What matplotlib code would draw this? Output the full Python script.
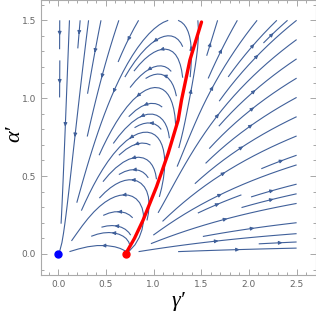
import matplotlib.pyplot as plt
import numpy as np

# red curve
red_gamma = [0.707, 0.80, 0.891, 1.031, 1.153, 1.258, 1.293, 1.381, 1.503, 1.52]
red_alpha = [0.0, 0.10, 0.218, 0.431, 0.645, 0.859, 0.987, 1.244, 1.489, 1.55]

# fixed points
blue_pt = (0.0, 0.0)
red_pt = (0.707, 0.0)

x_ticks = [0.0, 0.5, 1.0, 1.5, 2.0, 2.5]
y_ticks = [0.0, 0.5, 1.0, 1.5]

# model field: gamma is pushed away from the red line,
# alpha turns around about 0.3 to the left of it
turn_gap = 0.3
alpha_rate = 2.5

gg, aa = np.meshgrid(np.linspace(0.015, 2.5, 250), np.linspace(0.015, 1.5, 250))
g_red = np.interp(aa, red_alpha, red_gamma)
u = gg * (gg**2 - g_red**2)
v = alpha_rate * aa * (gg - g_red + turn_gap)

fig = plt.figure(figsize=(3.16, 3.11), dpi=100)
ax = fig.add_axes([0.1297, 0.1158, 0.8693, 0.8830])

line_col = "#40609a"
kw = dict(density=0.85, color=line_col, linewidth=0.8, arrowsize=0.5,
          arrowstyle="-|>", minlength=0.12)
try:
    ax.streamplot(gg, aa, u, v, num_arrows=3, **kw)
except TypeError:
    ax.streamplot(gg, aa, u, v, **kw)

ax.plot(red_gamma[:-1], red_alpha[:-1], color="red", linewidth=2.4,
        solid_capstyle="round", zorder=4)
ax.plot(*red_pt, "o", color="red", markersize=5, zorder=5)
ax.plot(*blue_pt, "o", color="blue", markersize=5, zorder=5)

ax.set_xlim(-0.18, 2.70)
ax.set_ylim(-0.135, 1.628)
ax.set_xticks(x_ticks)
ax.set_yticks(y_ticks)
ax.set_xticklabels(["%.1f" % t for t in x_ticks])
ax.set_yticklabels(["%.1f" % t for t in y_ticks])
ax.set_xticks(np.arange(-0.1, 2.7, 0.1), minor=True)
ax.set_yticks(np.arange(-0.1, 1.63, 0.1), minor=True)
ax.tick_params(which="both", direction="in", top=True, right=True, colors="#999999",
               labelcolor="#666666", labelsize=6.5, width=0.6)
ax.tick_params(which="major", length=4)
ax.tick_params(which="minor", length=2)
for s in ax.spines.values():
    s.set_color("#aaaaaa")
    s.set_linewidth(0.8)

ax.set_xlabel("γ′", family="Liberation Serif", style="italic", fontsize=16)
ax.set_ylabel("α′", family="Liberation Serif", style="italic", fontsize=16)
ax.xaxis.set_label_coords(0.5, -0.095)
ax.yaxis.set_label_coords(-0.095, 0.516)
ax.xaxis.label.set_va("center")
ax.yaxis.label.set_va("center")

fig.savefig("out.png", dpi=100)
